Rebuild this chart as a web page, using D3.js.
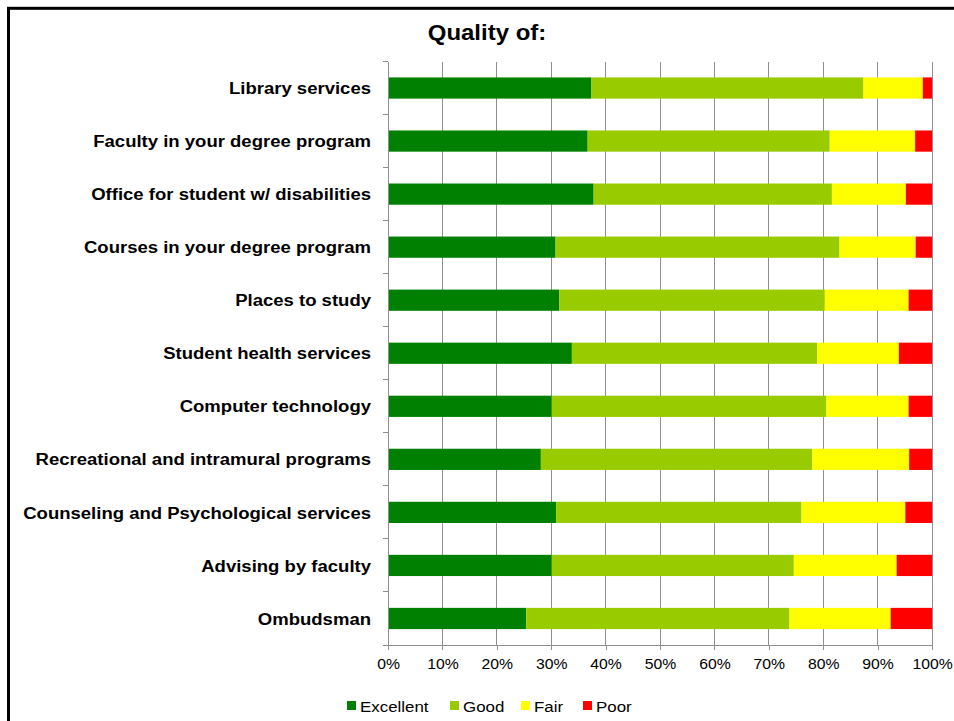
<!DOCTYPE html>
<html>
<head>
<meta charset="utf-8">
<script src="https://cdn.jsdelivr.net/npm/d3@7/dist/d3.min.js"></script>
<style>
  html, body { margin: 0; padding: 0; background: #fff; }
  svg { display: block; font-family: "Liberation Sans", Arial, sans-serif; }
</style>
</head>
<body>
<svg id="chart" width="954" height="721"></svg>
<script>
// ---- data ----
const categories = [
  "Library services",
  "Faculty in your degree program",
  "Office for student w/ disabilities",
  "Courses in your degree program",
  "Places to study",
  "Student health services",
  "Computer technology",
  "Recreational and intramural programs",
  "Counseling and Psychological services",
  "Advising by faculty",
  "Ombudsman"
];
const seriesNames = ["Excellent", "Good", "Fair", "Poor"];
const excellent = [37.4, 36.7, 37.8, 30.8, 31.5, 33.8, 30.1, 28.1, 30.9, 30.1, 25.4];
const good      = [50.0, 44.5, 43.8, 52.2, 48.8, 45.1, 50.5, 49.9, 45.1, 44.5, 48.4];
const fair      = [10.9, 15.7, 13.6, 14.0, 15.4, 15.0, 15.1, 17.8, 19.1, 18.9, 18.6];
const poor      = [ 1.7,  3.1,  4.8,  3.0,  4.3,  6.1,  4.3,  4.2,  4.9,  6.5,  7.6];
const tickValues = [0, 0.1, 0.2, 0.3, 0.4, 0.5, 0.6, 0.7, 0.8, 0.9, 1.0];
const chartTitle = "Quality of:";
const colors = ["#008000", "#99CC00", "#FFFF00", "#FF0000"];

// ---- build table ----
const table = categories.map((c, i) => ({
  category: c, Excellent: excellent[i], Good: good[i], Fair: fair[i], Poor: poor[i]
}));
const stacked = d3.stack().keys(seriesNames).offset(d3.stackOffsetExpand)(table);

// ---- layout ----
const svg = d3.select("#chart");
const SX = 1.09; // horizontal text stretch to match reference
const pLeft = 388, pRight = 932, pTop = 61.5, pBottom = 645;

const x = d3.scaleLinear().domain([0, 1]).range([pLeft, pRight]);
const y = d3.scaleBand().domain(categories).range([pTop, pBottom]).paddingInner(0.6).paddingOuter(0.3);

// frame
svg.append("rect")
  .attr("x", 8.5).attr("y", 8.3)
  .attr("width", 1000).attr("height", 800)
  .attr("fill", "none").attr("stroke", "#000").attr("stroke-width", 3);

// title
svg.append("text")
  .attr("transform", `translate(487,40) scale(${SX},1)`)
  .attr("text-anchor", "middle")
  .attr("font-size", 22).attr("font-weight", "bold")
  .attr("fill", "#000")
  .text(chartTitle);

// gridlines
svg.append("g").selectAll("line")
  .data(tickValues.slice(1))
  .join("line")
  .attr("x1", d => x(d)).attr("x2", d => x(d))
  .attr("y1", pTop).attr("y2", pBottom)
  .attr("stroke", "#8f8f8f").attr("stroke-width", 1)
  .attr("shape-rendering", "crispEdges");

// bars
svg.append("g").selectAll("g")
  .data(stacked)
  .join("g")
  .attr("fill", (d, i) => colors[i])
  .selectAll("rect")
  .data(d => d.map(v => ({ v, cat: v.data.category })))
  .join("rect")
  .attr("x", d => x(d.v[0]))
  .attr("width", d => x(d.v[1]) - x(d.v[0]))
  .attr("y", d => y(d.cat))
  .attr("height", y.bandwidth());

// left axis (category) line and ticks at boundaries
const step = y.step();
const boundaries = d3.range(categories.length + 1).map(i => pTop + i * step);
const gl = svg.append("g").attr("stroke", "#8f8f8f").attr("shape-rendering", "crispEdges");
gl.append("line").attr("x1", pLeft).attr("x2", pLeft).attr("y1", pTop).attr("y2", pBottom);
gl.selectAll("line.t").data(boundaries).join("line").attr("class", "t")
  .attr("x1", pLeft - 5).attr("x2", pLeft).attr("y1", d => d).attr("y2", d => d);

// category labels
svg.append("g").selectAll("text")
  .data(categories)
  .join("text")
  .attr("transform", d => `translate(371,${y(d) + y.bandwidth() / 2}) scale(${SX},1)`)
  .attr("text-anchor", "end")
  .attr("dy", "0.36em")
  .attr("font-size", 17).attr("font-weight", "bold")
  .attr("fill", "#000")
  .text(d => d);

// bottom axis
const xAxis = d3.axisBottom(x).tickValues(tickValues).tickFormat(d3.format(".0%"))
  .tickSizeInner(5).tickSizeOuter(0).tickPadding(8);
const gx = svg.append("g").attr("transform", `translate(0,${pBottom})`).call(xAxis);
gx.select(".domain").attr("stroke", "#8f8f8f").attr("shape-rendering", "crispEdges");
gx.selectAll(".tick line").attr("stroke", "#8f8f8f").attr("shape-rendering", "crispEdges");
gx.selectAll(".tick text")
  .attr("font-size", 15).attr("fill", "#000")
  .attr("font-family", "\"Liberation Sans\", Arial, sans-serif")
  .each(function () {
    const t = d3.select(this);
    const yy = +t.attr("y");
    t.attr("transform", `translate(0,${yy}) scale(1.05,1)`).attr("y", 0).attr("dy", "0.71em");
  });

// legend
const legendX = [347, 450, 521, 583];
const lg = svg.append("g").selectAll("g")
  .data(seriesNames)
  .join("g")
  .attr("transform", (d, i) => `translate(${legendX[i]},706)`);
lg.append("rect").attr("x", 0).attr("y", -5).attr("width", 9).attr("height", 9)
  .attr("fill", (d, i) => colors[i]);
lg.append("text")
  .attr("transform", `translate(13,0) scale(${SX},1)`)
  .attr("dy", "0.36em")
  .attr("font-size", 15.5).attr("fill", "#000")
  .text(d => d);
</script>
</body>
</html>
